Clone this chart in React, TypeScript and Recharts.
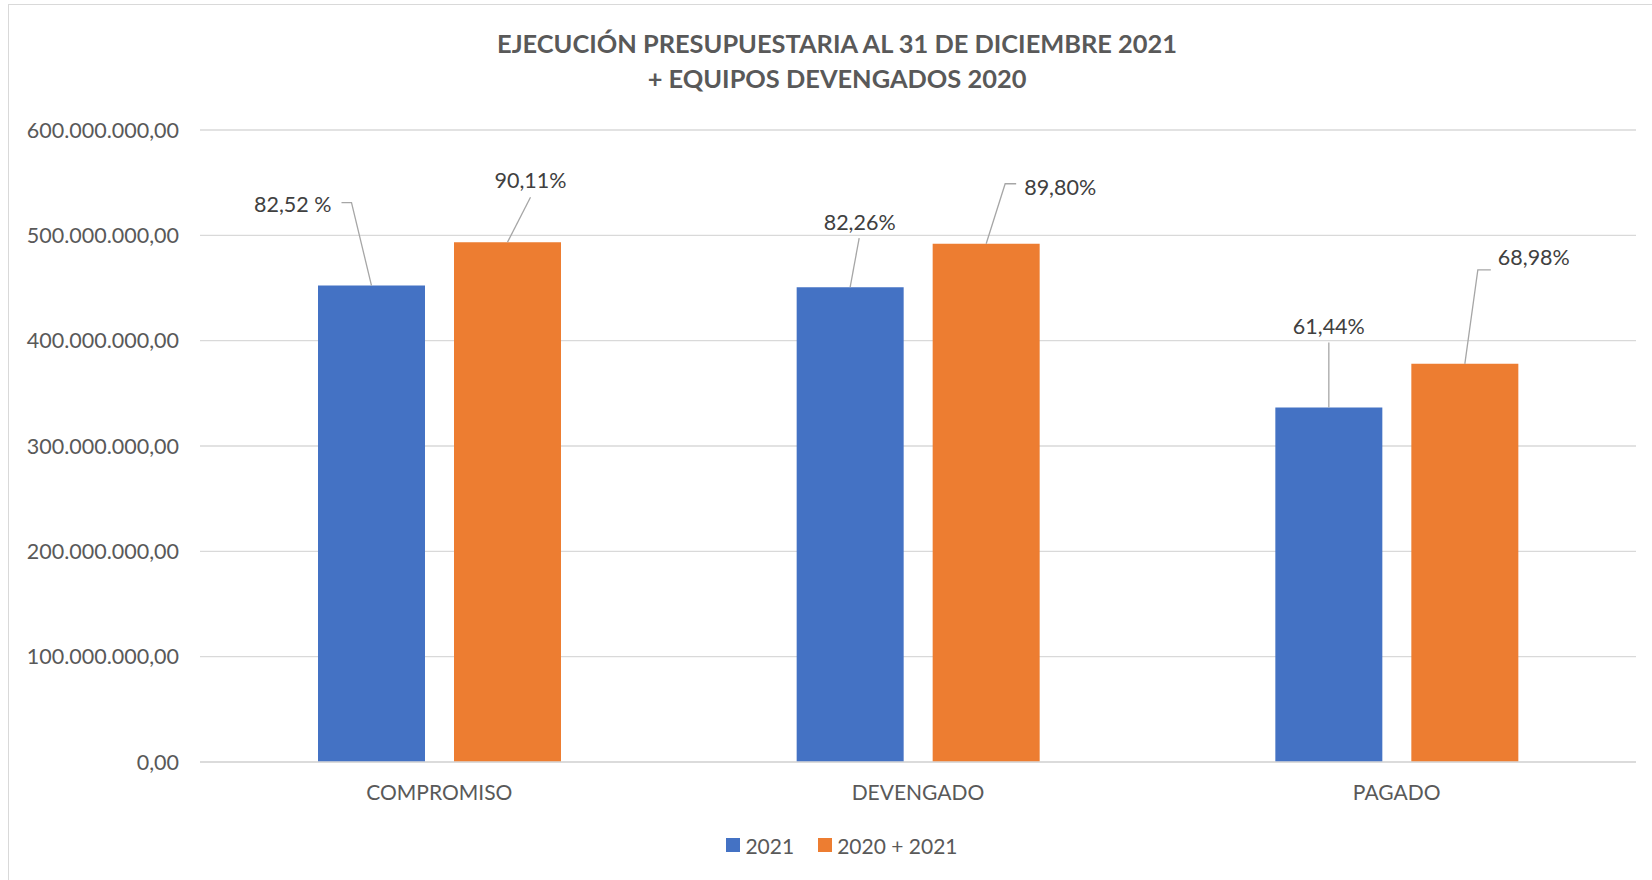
import React from 'react';
import { BarChart, Bar, XAxis, YAxis, CartesianGrid, Legend, LabelList } from 'recharts';

const categories = ['COMPROMISO', 'DEVENGADO', 'PAGADO'];
const values2021 = [452300000, 450800000, 336500000];
const values2020_2021 = [493500000, 492000000, 378000000];
const pct2021 = ['82,52 %', '82,26%', '61,44%'];
const pct2020_2021 = ['90,11%', '89,80%', '68,98%'];
const yTicks = [0, 100000000, 200000000, 300000000, 400000000, 500000000, 600000000];

const data = categories.map((name, i) => ({
  name,
  v2021: values2021[i],
  v2020: values2020_2021[i],
  p2021: pct2021[i],
  p2020: pct2020_2021[i],
}));

// leader line layout relative to the top centre of each bar
type Leader = { pts: [number, number][]; tx: number; ty: number; anchor: 'start' | 'middle' | 'end' };
const leaders2021: Leader[] = [
  { pts: [[0, 0], [-20, -83], [-30, -83]], tx: -40, ty: -82, anchor: 'end' },
  { pts: [[0, 0], [9, -49]], tx: 9.5, ty: -65, anchor: 'middle' },
  { pts: [[0, 0], [0, -65]], tx: 0, ty: -82, anchor: 'middle' },
];
const leaders2020: Leader[] = [
  { pts: [[0, 0], [23, -45]], tx: 23, ty: -62, anchor: 'middle' },
  { pts: [[0, 0], [19, -60], [30, -60]], tx: 38, ty: -57, anchor: 'start' },
  { pts: [[0, 0], [13, -94], [26, -94]], tx: 33, ty: -107, anchor: 'start' },
];

const FONT = 'Lato, "Open Sans", sans-serif';

const formatMoney = (v: number) => {
  const int = Math.round(v).toString().replace(/\B(?=(\d{3})+(?!\d))/g, '.');
  return int + ',00';
};

const makeLabel = (leaders: Leader[]) => (props: any) => {
  const { x, y, width, value, index } = props;
  const l = leaders[index];
  if (!l) return null;
  const cx = Number(x) + Number(width) / 2;
  const top = Number(y);
  const d = l.pts.map((p, i) => `${i === 0 ? 'M' : 'L'}${cx + p[0]},${top + p[1]}`).join(' ');
  return (
    <g>
      <path d={d} fill="none" stroke="#a6a6a6" strokeWidth={1.3} />
      <text
        x={cx + l.tx}
        y={top + l.ty}
        textAnchor={l.anchor}
        dominantBaseline="central"
        fontFamily={FONT}
        fontSize={21.5}
        fill="#404040"
      >
        {value}
      </text>
    </g>
  );
};

const renderLegend = () => (
  <div style={{ display: 'flex', justifyContent: 'center', alignItems: 'center', height: 30, fontFamily: FONT, fontSize: 21, color: '#595959' }}>
    <span style={{ display: 'inline-block', width: 14, height: 14, background: '#4472C4', marginRight: 5 }} />
    <span style={{ marginRight: 24 }}>2021</span>
    <span style={{ display: 'inline-block', width: 14, height: 14, background: '#ED7D31', marginRight: 5 }} />
    <span>2020 + 2021</span>
  </div>
);

export default function App() {
  return (
    <div style={{ position: 'absolute', left: 0, top: 0, width: 1652, height: 880, overflow: 'hidden', background: '#fff' }}>
      <div style={{ position: 'absolute', left: 8, top: 4, width: 1700, height: 900, border: '1px solid #d9d9d9' }} />
      <div style={{ position: 'absolute', left: 8, width: 1658, top: 26, textAlign: 'center', fontFamily: FONT, fontWeight: 700, fontSize: 25.4, color: '#595959', lineHeight: '35px' }}>
        EJECUCIÓN PRESUPUESTARIA AL 31 DE DICIEMBRE 2021
        <br />+ EQUIPOS DEVENGADOS 2020
      </div>
      <BarChart
        width={1652}
        height={880}
        data={data}
        margin={{ top: 130, right: 16, left: 0, bottom: 20 }}
        barSize={107}
        barGap={29}
        style={{ position: 'absolute', left: 0, top: 0 }}
      >
        <CartesianGrid vertical={false} stroke="#d9d9d9" strokeWidth={1.3} />
        <XAxis
          dataKey="name"
          height={68}
          tickSize={0}
          tickMargin={23}
          axisLine={{ stroke: '#d9d9d9', strokeWidth: 1.3 }}
          tick={{ fontFamily: FONT, fontSize: 21, fill: '#595959' }}
        />
        <YAxis
          width={200}
          domain={[0, 600000000]}
          ticks={yTicks}
          tickSize={0}
          tickMargin={21}
          axisLine={false}
          tickLine={false}
          tickFormatter={formatMoney}
          tick={{ fontFamily: FONT, fontSize: 21.5, fill: '#595959' }}
        />
        <Legend verticalAlign="bottom" content={renderLegend} wrapperStyle={{ left: 32, width: 1620, bottom: 20 }} />
        <Bar dataKey="v2021" name="2021" fill="#4472C4" isAnimationActive={false}>
          <LabelList dataKey="p2021" content={makeLabel(leaders2021)} />
        </Bar>
        <Bar dataKey="v2020" name="2020 + 2021" fill="#ED7D31" isAnimationActive={false}>
          <LabelList dataKey="p2020" content={makeLabel(leaders2020)} />
        </Bar>
      </BarChart>
    </div>
  );
}
